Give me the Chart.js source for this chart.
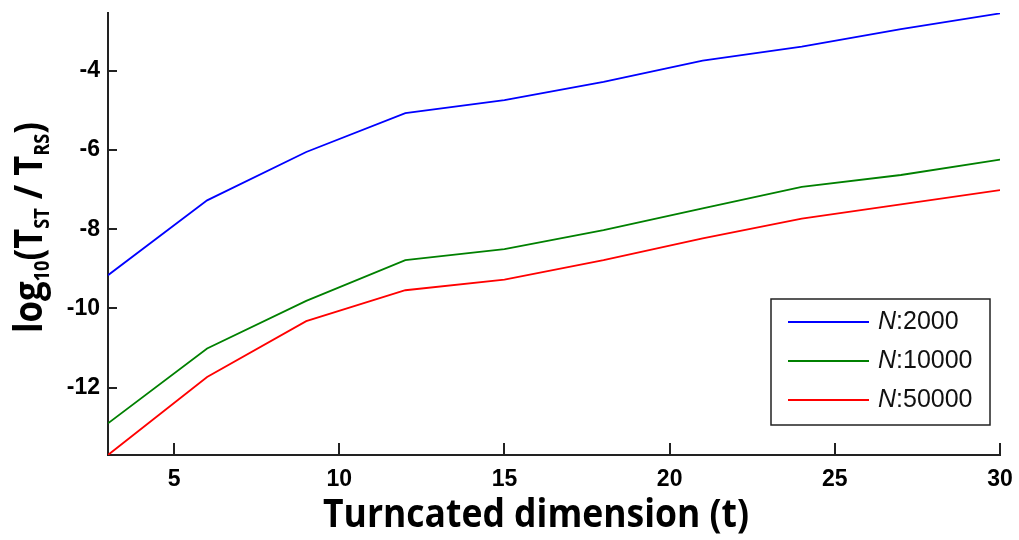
<!DOCTYPE html>
<html>
<head>
<meta charset="utf-8">
<script src="https://cdn.jsdelivr.net/npm/chart.js@4"></script>
<style>
  html, body { margin: 0; padding: 0; background: #fff; }
</style>
</head>
<body>
<canvas id="myChart" width="1019" height="540"></canvas>
<script>
// DATA ----------------------------------------------------------------------
var dims = [3, 6, 9, 12, 15, 18, 21, 24, 27, 30];
var logN2000  = [-9.16, -7.27, -6.05, -5.07, -4.74, -4.28, -3.74, -3.39, -2.95, -2.55];
var logN10000 = [-12.90, -11.01, -9.81, -8.78, -8.50, -8.02, -7.47, -6.93, -6.63, -6.24];
var logN50000 = [-13.70, -11.73, -10.32, -9.54, -9.27, -8.78, -8.23, -7.73, -7.37, -7.01];
var seriesNames = ["N:2000", "N:10000", "N:50000"];
var seriesColors = ["#0000ff", "#008000", "#ff0000"];
var xTicks = [5, 10, 15, 20, 25, 30];
var yTicks = [-12, -10, -8, -6, -4];
var xTitle = "Turncated dimension (t)";
// [text, isSubscript]
var yTitleParts = [["log", 0], ["10", 1], ["(T", 0], ["ST", 1], [" / T", 0], ["RS", 1], [")", 0]];

function toPoints(ys) {
  return dims.map(function(x, i) { return { x: x, y: ys[i] }; });
}

// INWARD TICKS ----------------------------------------------------------------
var inwardTicks = {
  id: "inwardTicks",
  afterDatasetsDraw: function(chart) {
    var ctx = chart.ctx, a = chart.chartArea;
    ctx.save();
    ctx.strokeStyle = "#222";
    ctx.lineWidth = 2;
    ctx.beginPath();
    chart.scales.y.ticks.forEach(function(t) {
      var y = Math.round(chart.scales.y.getPixelForValue(t.value));
      ctx.moveTo(a.left, y);
      ctx.lineTo(a.left + 9, y);
    });
    chart.scales.x.ticks.forEach(function(t) {
      var x = Math.round(chart.scales.x.getPixelForValue(t.value));
      ctx.moveTo(x, a.bottom);
      ctx.lineTo(x, a.bottom - 12);
    });
    ctx.stroke();
    ctx.restore();
  }
};

// LEGEND BOX ------------------------------------------------------------------
var legendBox = {
  id: "legendBox",
  afterDatasetsDraw: function(chart) {
    var ctx = chart.ctx, a = chart.chartArea;
    var right = a.right - 10, bottom = a.bottom - 30;
    var w = 219, h = 126;
    var left = right - w, top = bottom - h;
    ctx.save();
    ctx.fillStyle = "#fff";
    ctx.fillRect(left, top, w, h);
    ctx.strokeStyle = "#222";
    ctx.lineWidth = 1.5;
    ctx.strokeRect(left, top, w, h);
    chart.data.datasets.forEach(function(ds, i) {
      var y = top + 23 + i * 39;
      ctx.strokeStyle = ds.borderColor;
      ctx.lineWidth = 1.8;
      ctx.beginPath();
      ctx.moveTo(left + 17, y);
      ctx.lineTo(left + 98, y);
      ctx.stroke();
      var bits = ds.label.split(":");
      ctx.fillStyle = "#111";
      ctx.textBaseline = "middle";
      ctx.textAlign = "left";
      ctx.font = 'italic 25px "Liberation Sans", Arial';
      ctx.fillText(bits[0], left + 107, y);
      var nw = ctx.measureText(bits[0]).width;
      ctx.font = '25px "Liberation Sans", Arial';
      ctx.fillText(":" + bits[1], left + 107 + nw, y);
    });
    ctx.restore();
  }
};

// AXIS TITLES -----------------------------------------------------------------
var axisTitles = {
  id: "axisTitles",
  afterDraw: function(chart) {
    var ctx = chart.ctx;
    var big = 'bold 40px "Open Sans"', small = 'bold 21px "Open Sans"';
    ctx.save();
    ctx.fillStyle = "#000";
    ctx.font = big;
    ctx.textAlign = "center";
    ctx.textBaseline = "alphabetic";
    ctx.fillText(xTitle, 536, 527, 426);

    // y title, rotated, with subscripts
    var total = 0;
    yTitleParts.forEach(function(p) {
      ctx.font = p[1] ? small : big;
      p.w = ctx.measureText(p[0]).width;
      total += p.w;
    });
    var sx = 211 / total;
    ctx.translate(42, 227.5);
    ctx.rotate(-Math.PI / 2);
    ctx.scale(sx, 1);
    ctx.textAlign = "left";
    var pos = -total / 2;
    yTitleParts.forEach(function(p) {
      ctx.font = p[1] ? small : big;
      ctx.fillText(p[0], pos, p[1] ? 7 : 0);
      pos += p.w;
    });
    ctx.restore();
  }
};

// CHART -----------------------------------------------------------------------
var tickFont = { family: '"Liberation Sans", Arial', size: 23, weight: "bold" };

var ctx = document.getElementById("myChart").getContext("2d");
var chart = new Chart(ctx, {
  type: "line",
  data: {
    datasets: [logN2000, logN10000, logN50000].map(function(ys, i) {
      return {
        label: seriesNames[i],
        data: toPoints(ys),
        borderColor: seriesColors[i],
        backgroundColor: seriesColors[i],
        borderWidth: 1.8,
        pointRadius: 0,
        tension: 0,
        fill: false
      };
    })
  },
  options: {
    responsive: false,
    animation: false,
    layout: { padding: { top: 13, right: 19, left: 0, bottom: 0 } },
    plugins: { legend: { display: false }, tooltip: { enabled: false } },
    scales: {
      x: {
        type: "linear",
        min: 3,
        max: 30,
        afterFit: function(s) { s.height = 85; s.paddingLeft = 0; s.paddingRight = 0; },
        afterBuildTicks: function(s) { s.ticks = xTicks.map(function(v) { return { value: v }; }); },
        grid: { display: false, drawTicks: false },
        border: { display: true, color: "#222", width: 2 },
        ticks: { padding: 11, color: "#000", font: tickFont, maxRotation: 0, autoSkip: false }
      },
      y: {
        type: "linear",
        min: -13.7,
        max: -2.54,
        afterFit: function(s) { s.width = 108; s.paddingTop = 0; s.paddingBottom = 0; },
        afterBuildTicks: function(s) { s.ticks = yTicks.map(function(v) { return { value: v }; }); },
        grid: { display: false, drawTicks: false },
        border: { display: true, color: "#222", width: 2 },
        ticks: { padding: 8, color: "#000", font: tickFont }
      }
    }
  },
  plugins: [inwardTicks, legendBox, axisTitles]
});
</script>
</body>
</html>
